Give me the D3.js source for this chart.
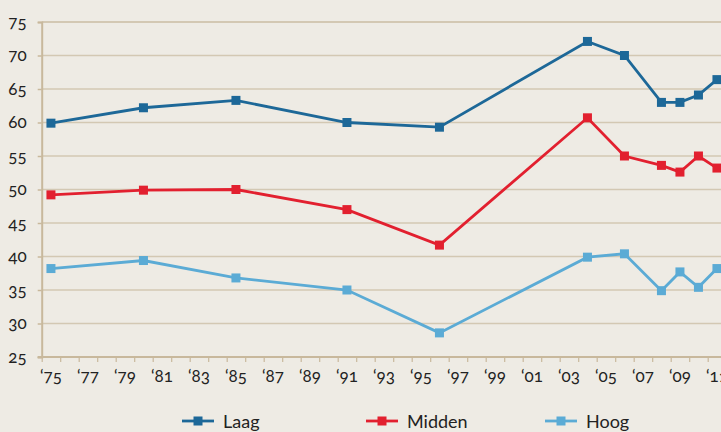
<!DOCTYPE html>
<html>
<head>
<meta charset="utf-8">
<script src="https://cdn.jsdelivr.net/npm/d3@7"></script>
<style>
    body { margin: 0; background: #eeebe4; }
    svg { display: block; font-family: Lato, "Open Sans", sans-serif; font-variant-numeric: oldstyle-nums; }
</style>
</head>
<body>
<div class="content"></div>
<script>
(function () {
    'use strict';
    var years = [1975, 1980, 1985, 1991, 1996, 2004, 2006, 2008, 2009, 2010, 2011],
        laag = [59.9, 62.2, 63.3, 60.0, 59.3, 72.1, 70.0, 63.0, 63.0, 64.1, 66.4],
        midden = [49.2, 49.9, 50.0, 47.0, 41.7, 60.7, 55.0, 53.6, 52.6, 55.0, 53.2],
        hoog = [38.2, 39.4, 36.8, 35.0, 28.6, 39.9, 40.4, 34.9, 37.7, 35.4, 38.2],
        seriesNames = ["Laag", "Midden", "Hoog"],
        yTicks = [25, 30, 35, 40, 45, 50, 55, 60, 65, 70, 75],
        firstYear = 1975, lastYear = 2011,
        opts = {
            width: 721,
            height: 432,
            left: 41.7,
            bandWidth: 18.5,
            top: 22,
            bottom: 357,
            colors: ["#1d6898", "#e2202f", "#5babd5"],
            grid: "#d3c8b3",
            axis: "#c8b89c",
            text: "#222"
        };

    var series = [laag, midden, hoog].map(function (vals, i) {
        return {
            name: seriesNames[i],
            color: opts.colors[i],
            points: years.map(function (y, j) { return {year: y, value: vals[j]}; })
        };
    });

    var svg = d3.select(".content").append("svg")
        .attr("width", opts.width)
        .attr("height", opts.height);

    svg.append("rect").attr("width", opts.width).attr("height", opts.height).attr("fill", "#eeebe4");

    var x = d3.scaleLinear()
        .domain([firstYear, lastYear + 1])
        .range([opts.left, opts.left + (lastYear + 1 - firstYear) * opts.bandWidth]);
    var y = d3.scaleLinear().domain([25, 75]).range([opts.bottom, opts.top]);

    // gridlines
    svg.append("g").selectAll("line")
        .data(yTicks.filter(function (d) { return d > 25; }))
        .enter().append("line")
        .attr("x1", opts.left).attr("x2", opts.width)
        .attr("y1", function (d) { return y(d); })
        .attr("y2", function (d) { return y(d); })
        .attr("stroke", opts.grid)
        .attr("stroke-width", function (d) { return d === 75 ? 2 : 1.5; });

    // y axis
    var yAxis = svg.append("g")
        .attr("transform", "translate(" + opts.left + ",0)")
        .call(d3.axisLeft(y).tickValues(yTicks).tickSize(4).tickPadding(11));
    yAxis.select(".domain").attr("stroke", opts.axis).attr("stroke-width", 2);
    yAxis.selectAll(".tick line").attr("stroke", opts.axis).attr("stroke-width", 1.5);
    yAxis.selectAll("text").attr("font-size", "17px").attr("fill", opts.text)
        .attr("font-family", "Lato, sans-serif");

    // x axis (ticks at year boundaries)
    var bounds = d3.range(firstYear, lastYear + 2);
    var xAxis = svg.append("g")
        .attr("transform", "translate(0," + opts.bottom + ")")
        .call(d3.axisBottom(x).tickValues(bounds).tickSize(5).tickFormat(""));
    xAxis.select(".domain").attr("stroke", opts.axis).attr("stroke-width", 2)
        .attr("d", "M" + (opts.left - 4) + ",0H" + opts.width);
    xAxis.selectAll(".tick line").attr("stroke", opts.axis).attr("stroke-width", 1.2);

    var labelYears = d3.range(firstYear, lastYear + 1, 2);
    svg.append("g").selectAll("text")
        .data(labelYears)
        .enter().append("text")
        .attr("x", function (d) { return x(d + 0.5); })
        .attr("y", 382)
        .attr("text-anchor", "middle")
        .attr("font-size", "17px")
        .attr("fill", opts.text)
        .text(function (d) { return "\u2018" + String(d).slice(2); });

    // lines + markers
    var line = d3.line()
        .x(function (d) { return x(d.year + 0.5); })
        .y(function (d) { return y(d.value); });

    var g = svg.selectAll("g.series").data(series).enter().append("g").attr("class", "series");
    g.append("path")
        .attr("d", function (d) { return line(d.points); })
        .attr("fill", "none")
        .attr("stroke", function (d) { return d.color; })
        .attr("stroke-width", 2.8);
    g.each(function (s) {
        d3.select(this).selectAll("rect")
            .data(s.points)
            .enter().append("rect")
            .attr("x", function (d) { return x(d.year + 0.5) - 4.5; })
            .attr("y", function (d) { return y(d.value) - 4.5; })
            .attr("width", 9).attr("height", 9)
            .attr("fill", s.color);
    });

    // legend
    var legendX = [182, 366, 545];
    var leg = svg.selectAll("g.legend").data(series).enter().append("g")
        .attr("class", "legend")
        .attr("transform", function (d, i) { return "translate(" + legendX[i] + ",421)"; });
    leg.append("line").attr("x1", 0).attr("x2", 32).attr("y1", 0).attr("y2", 0)
        .attr("stroke", function (d) { return d.color; }).attr("stroke-width", 2.8);
    leg.append("rect").attr("x", 11.5).attr("y", -4.5).attr("width", 9).attr("height", 9)
        .attr("fill", function (d) { return d.color; });
    leg.append("text").attr("x", 41).attr("y", 7)
        .attr("font-size", "18px").attr("fill", opts.text)
        .text(function (d) { return d.name; });
}());
</script>
</body>
</html>
